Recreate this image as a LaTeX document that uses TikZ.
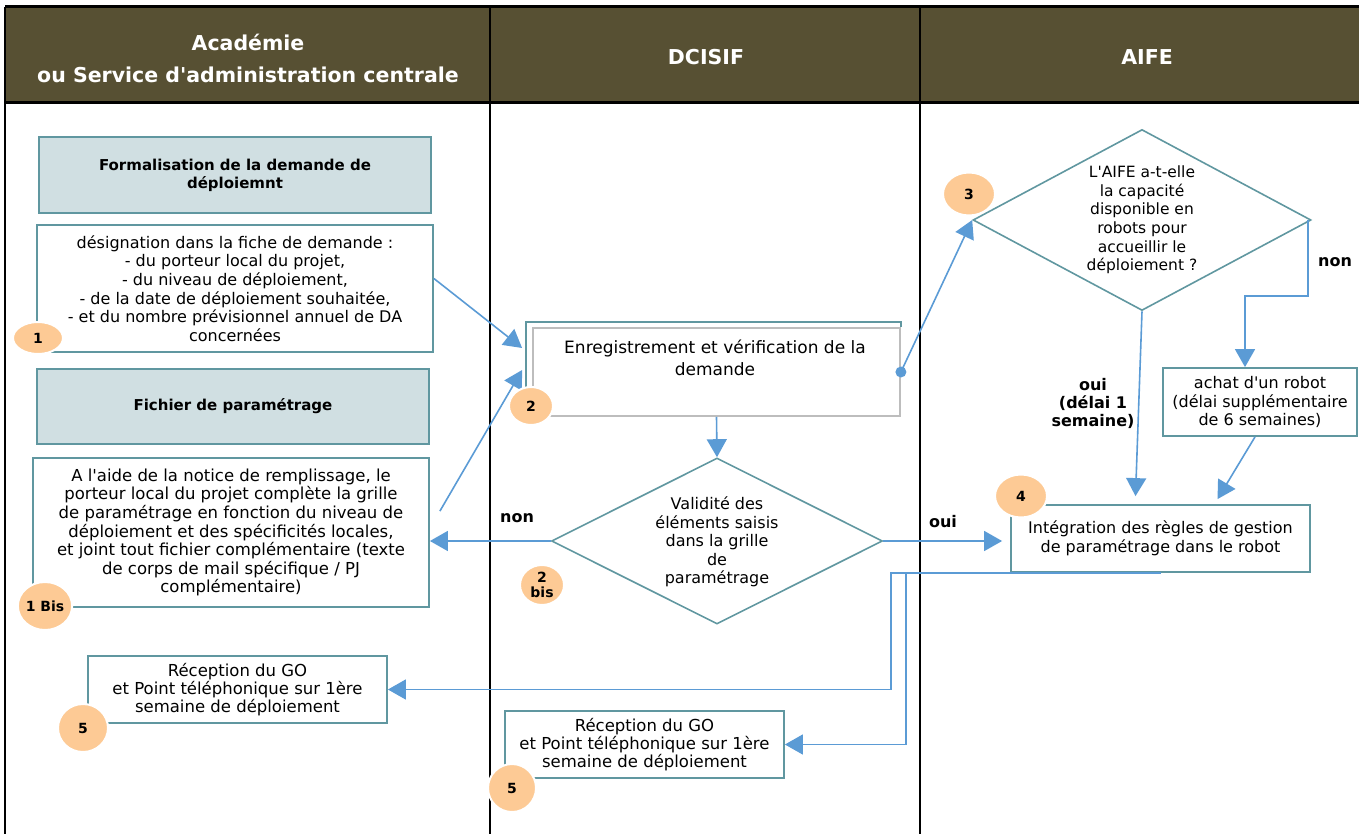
\documentclass[tikz,border=0pt]{standalone}
\usepackage{fontspec}
\setmainfont{DejaVu Sans}
\usepackage{xcolor}
\usepackage{tikz}
\usetikzlibrary{calc}
\usetikzlibrary{shapes.geometric,arrows.meta}
\definecolor{entete}{HTML}{575033}
\definecolor{bord}{HTML}{6097A0}
\definecolor{fondtitre}{HTML}{D0DFE2}
\definecolor{bleu}{HTML}{5B9BD5}
\definecolor{pastille}{HTML}{FDCA95}
\definecolor{grisbord}{HTML}{BDBDBD}
\newcommand{\apos}{\textquotesingle}

\begin{document}
\begin{tikzpicture}[x=1pt,y=-1pt,
	boite/.style={draw=bord,line width=1.8pt,align=center,inner sep=0pt,font=\fontsize{16}{18.6}\selectfont},
	titre/.style={boite,fill=fondtitre,font=\bfseries\fontsize{15}{18}\selectfont},
	recep/.style={boite,font=\fontsize{16.5}{18}\selectfont},
	texte/.style={align=center,inner sep=0pt,font=\fontsize{16}{18.6}\selectfont},
	choix/.style={inner sep=0pt,align=center,font=\bfseries\fontsize{16}{18}\selectfont},
	losange/.style={diamond,draw=bord,line width=1.6pt,inner sep=0pt},
	badge/.style={ellipse,fill=pastille,draw=white,line width=2pt,inner sep=0pt,align=center,font=\bfseries\fontsize{14}{15}\selectfont},
	fleche/.style={-{Triangle[length=18pt,width=20pt]},line width=1.6pt,bleu},
	entetetxt/.style={text=white,align=center,font=\bfseries\fontsize{20.5}{32}\selectfont}
	]
	\useasboundingbox (0,0) rectangle (1359,834);
	% en-tete
	\fill[entete] (5,7) rectangle (1359,103);
	\draw[line width=3pt] (5,7) -- (1359,7);
	\draw[line width=3pt] (5,103) -- (1359,103);
	\draw[line width=2pt] (5,7) -- (5,834);
	\draw[line width=2pt] (490,7) -- (490,834);
	\draw[line width=2pt] (920,7) -- (920,834);
	\node[entetetxt] at (248,58) {Académie\\ou Service d\apos administration centrale};
	\node[entetetxt] at (706,57) {DCISIF};
	\node[entetetxt] at (1147,57) {AIFE};
	
	% Academie
	\node[titre,minimum width=392pt,minimum height=76pt] (form) at (235,175) {Formalisation de la demande de\\déploiemnt};
	\node[boite,minimum width=396pt,minimum height=127pt] (fiche) at (235,288.5) {désignation dans la fiche de demande :\\- du porteur local du projet,\\- du niveau de déploiement,\\- de la date de déploiement souhaitée,\\- et du nombre prévisionnel annuel de DA\\concernées};
	\node[titre,minimum width=392pt,minimum height=75pt] (param) at (233,406.5) {Fichier de paramétrage};
	\node[boite,minimum width=396pt,minimum height=149pt,font=\fontsize{16.5}{18.6}\selectfont] (grille) at (231,532.5) {A l\apos aide de la notice de remplissage, le\\porteur local du projet complète la grille\\de paramétrage en fonction du niveau de\\déploiement et des spécificités locales,\\et joint tout fichier complémentaire (texte\\de corps de mail spécifique / PJ\\complémentaire)};
	\node[recep,minimum width=299pt,minimum height=67pt] (rec1) at (237.5,689.5) {Réception du GO\\et Point téléphonique sur 1ère\\semaine de déploiement};
	
	% DCISIF
	\node[boite,draw=grisbord,minimum width=367pt,minimum height=88pt] (enr) at (716.5,372) {};
	\draw[bord,line width=1.6pt] ([shift={(-6pt,5pt)}]enr.south west) |- ([yshift=5pt]enr.north east) -- (enr.north east);
	\node[texte,font=\fontsize{17}{22}\selectfont] at (715,358) {Enregistrement et vérification de la\\demande};
	\node[losange,minimum width=331pt,minimum height=166pt] (valid) at (717,541) {};
	\node[texte] at (717,542) {Validité des\\éléments saisis\\dans la grille\\de\\paramétrage};
	\node[recep,minimum width=279pt,minimum height=67pt] (rec2) at (644.5,744.5) {Réception du GO\\et Point téléphonique sur 1ère\\semaine de déploiement};
	
	% AIFE
	\node[losange,minimum width=338pt,minimum height=181pt] (capa) at (1142,220) {};
	\node[texte,font=\fontsize{15.5}{18.6}\selectfont] at (1142,220) {L\apos AIFE a-t-elle\\la capacité\\disponible en\\robots pour\\accueillir le\\déploiement ?};
	\node[boite,minimum width=194pt,minimum height=68pt] (achat) at (1260,402) {achat d\apos un robot\\(délai supplémentaire\\de 6 semaines)};
	\node[boite,minimum width=299pt,minimum height=67pt,font=\fontsize{16}{19}\selectfont] (integ) at (1160.5,538.5) {Intégration des règles de gestion\\de paramétrage dans le robot};
	
	% fleches
	\draw[fleche] ([yshift=10pt]fiche.east) -- ([shift={(-10pt,24pt)}]enr.west);
	\draw[fleche] ([shift={(10pt,-54pt)}]grille.north east) -- ([shift={(-10pt,2pt)}]enr.west);
	\fill[bleu] (enr.east) circle (5.5pt);
	\draw[fleche] (enr.east) -- (capa.west);
	\draw[fleche] (enr.south) -- (valid.north);
	\draw[fleche] (valid.west) -- (valid.west -| grille.east);
	\draw[fleche] (valid.east) -- ([xshift=-8pt]valid.east -| integ.west);
	\draw[fleche] ([xshift=-4pt]capa.east) -- ++(0,76) -| ([xshift=-15pt]achat.north);
	\draw[fleche] (capa.south) -- ([shift={(-25pt,8pt)}]integ.north);
	\draw[fleche] ([xshift=-5pt]achat.south) -- ([shift={(57pt,5pt)}]integ.north);
	\coordinate (c1) at (891,640);
	\coordinate (c2) at (906,700);
	\draw[fleche] (integ.south) -| (c1) |- (rec1.east);
	\draw[fleche] (integ.south) -| (c2) |- (rec2.east);
	\node[choix] at (517,518) {non};
	\node[choix] at (943,522) {oui};
	\node[choix] at (1335,262) {non};
	\node[choix] at (1093,403) {oui\\(délai 1\\semaine)};
	
	% pastilles
	\node[badge,minimum width=50pt,minimum height=32pt] at (38,338) {1};
	\node[badge,minimum width=52pt,minimum height=48pt] at (45,606) {1 Bis};
	\node[badge,minimum width=44pt,minimum height=38pt] at (531,406) {2};
	\node[badge,minimum width=44pt,minimum height=40pt] at (542,585) {2\\bis};
	\node[badge,minimum width=52pt,minimum height=43pt] at (969,194) {3};
	\node[badge,minimum width=52pt,minimum height=43pt] at (1021,496) {4};
	\node[badge,minimum width=50pt,minimum height=48pt] at (83,728) {5};
	\node[badge,minimum width=48pt,minimum height=48pt] at (512,788) {5};
\end{tikzpicture}
\end{document}
